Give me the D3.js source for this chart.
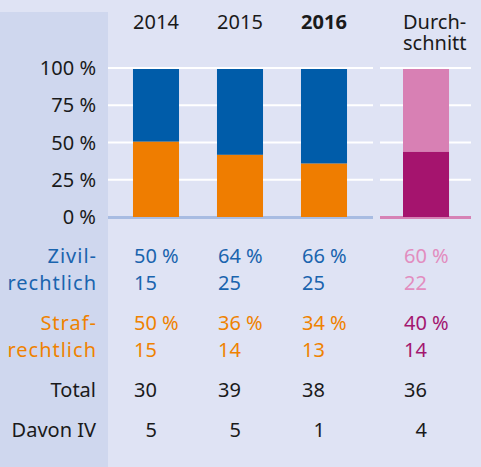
<!DOCTYPE html>
<html lang="de">
<head>
    <meta charset="UTF-8">
    <title>Zivil- und Strafrechtlich</title>
    <script src="https://d3js.org/d3.v7.min.js"></script>
    <style>
        body { margin: 0; background: #dfe3f4; }
        svg { display: block; font-family: "Noto Sans", sans-serif; }
    </style>
</head>
<body>
<div id="chart"></div>
<script>
    // data
    var years = ["2014", "2015", "2016"];
    var avgLabel = "Durchschnitt";
    var ticks = [0, 25, 50, 75, 100];
    var strafBar = [50.5, 41.7, 35.8, 43.7];   // bar heights as drawn (%)
    var zivilPct = [50, 64, 66, 60];
    var zivilN = [15, 25, 25, 22];
    var strafPct = [50, 36, 34, 40];
    var strafN = [15, 14, 13, 14];
    var total = [30, 39, 38, 36];
    var davonIV = [5, 5, 1, 4];

    var width = 481, height = 467;

    var svg = d3.select("#chart")
        .append("svg")
        .attr("width", width)
        .attr("height", height);

    // background + left label panel
    svg.append("rect").attr("width", width).attr("height", height).attr("fill", "#dfe3f4");
    svg.append("rect").attr("x", 0).attr("y", 12).attr("width", 108).attr("height", height - 12).attr("fill", "#cfd7ee");

    var x = d3.scaleBand()
        .domain(years)
        .range([114, 366])
        .paddingInner(0.452)
        .paddingOuter(0.226);

    var xa = d3.scaleBand()
        .domain([avgLabel])
        .range([380, 472])
        .padding(1 / 3);

    var y = d3.scaleLinear()
        .domain([0, 100])
        .range([217, 68]);

    var cols = years.map(function (d, i) { return {key: d, x: x(d), i: i, avg: false}; });
    cols.push({key: avgLabel, x: xa(avgLabel), i: 3, avg: true});
    var bw = x.bandwidth();

    // gridlines, two segments
    var segs = [[108, 373], [380, 471]];
    segs.forEach(function (s) {
        svg.append("g").selectAll("line")
            .data(ticks.filter(function (t) { return t > 0; }))
            .enter().append("line")
            .attr("x1", s[0]).attr("x2", s[1])
            .attr("y1", function (d) { return y(d); })
            .attr("y2", function (d) { return y(d); })
            .attr("stroke", "#ffffff")
            .attr("stroke-width", 2.2);
    });

    // baselines
    svg.append("line").attr("x1", 108).attr("x2", 373).attr("y1", y(0) + 0.5).attr("y2", y(0) + 0.5)
        .attr("stroke", "#a8bce2").attr("stroke-width", 3);
    svg.append("line").attr("x1", 380).attr("x2", 471).attr("y1", y(0) + 0.5).attr("y2", y(0) + 0.5)
        .attr("stroke", "#d682b5").attr("stroke-width", 3);

    // tick labels
    svg.append("g").selectAll("text")
        .data(ticks)
        .enter().append("text")
        .attr("x", 96)
        .attr("y", function (d) { return y(d) + 7; })
        .attr("text-anchor", "end")
        .attr("font-size", 20)
        .attr("fill", "#1a1a1a")
        .text(function (d) { return d + " %"; });

    // stacked bars
    var bars = svg.append("g");
    bars.selectAll(".top")
        .data(cols)
        .enter().append("rect")
        .attr("x", function (d) { return d.x; })
        .attr("y", y(100) + 1)
        .attr("width", bw)
        .attr("height", function (d) { return y(strafBar[d.i]) - y(100) - 1; })
        .attr("fill", function (d) { return d.avg ? "#d880b4" : "#005ca9"; });
    bars.selectAll(".bottom")
        .data(cols)
        .enter().append("rect")
        .attr("x", function (d) { return d.x; })
        .attr("y", function (d) { return y(strafBar[d.i]); })
        .attr("width", bw)
        .attr("height", function (d) { return y(0) - y(strafBar[d.i]); })
        .attr("fill", function (d) { return d.avg ? "#a5146e" : "#ef7d00"; });

    // column headers
    svg.append("g").selectAll("text")
        .data(years)
        .enter().append("text")
        .attr("x", function (d) { return x(d) + bw / 2; })
        .attr("y", 29)
        .attr("text-anchor", "middle")
        .attr("font-size", 20)
        .attr("font-weight", function (d) { return d === "2016" ? "bold" : "normal"; })
        .attr("fill", "#1a1a1a")
        .text(function (d) { return d; });
    svg.append("text")
        .attr("x", xa(avgLabel))
        .attr("y", 29)
        .attr("font-size", 20)
        .attr("fill", "#1a1a1a")
        .text("Durch-");
    svg.append("text")
        .attr("x", xa(avgLabel))
        .attr("y", 50)
        .attr("font-size", 20)
        .attr("fill", "#1a1a1a")
        .text("schnitt");

    // table rows
    var blue = "#1a64ae", orange = "#ef8200", pink = "#e28dbf", plum = "#a3176f", ink = "#1a1a1a";
    var rows = [
        {label: "Zivil-", y: 263, color: blue, ls: 1},
        {label: "rechtlich", y: 290, color: blue, ls: 1},
        {label: "Straf-", y: 330, color: orange, ls: 1},
        {label: "rechtlich", y: 357, color: orange, ls: 1},
        {label: "Total", y: 397, color: ink, ls: 0},
        {label: "Davon IV", y: 437, color: ink, ls: 0}
    ];
    svg.append("g").selectAll("text")
        .data(rows)
        .enter().append("text")
        .attr("x", function (d) { return 96 + d.ls; })
        .attr("y", function (d) { return d.y; })
        .attr("text-anchor", "end")
        .attr("font-size", 20)
        .attr("letter-spacing", function (d) { return d.ls; })
        .attr("fill", function (d) { return d.color; })
        .text(function (d) { return d.label; });

    var cells = svg.append("g").attr("font-size", 20);
    cols.forEach(function (c) {
        var i = c.i;
        var items = [
            {t: zivilPct[i] + " %", y: rows[0].y, color: c.avg ? pink : blue},
            {t: zivilN[i], y: rows[1].y, color: c.avg ? pink : blue},
            {t: strafPct[i] + " %", y: rows[2].y, color: c.avg ? plum : orange},
            {t: strafN[i], y: rows[3].y, color: c.avg ? plum : orange},
            {t: total[i], y: rows[4].y, color: ink}
        ];
        items.forEach(function (it) {
            cells.append("text")
                .attr("x", c.x + 1)
                .attr("y", it.y)
                .attr("fill", it.color)
                .text(it.t);
        });
        cells.append("text")
            .attr("x", c.x + 24)
            .attr("y", rows[5].y)
            .attr("text-anchor", "end")
            .attr("fill", ink)
            .text(davonIV[i]);
    });
</script>
</body>
</html>
